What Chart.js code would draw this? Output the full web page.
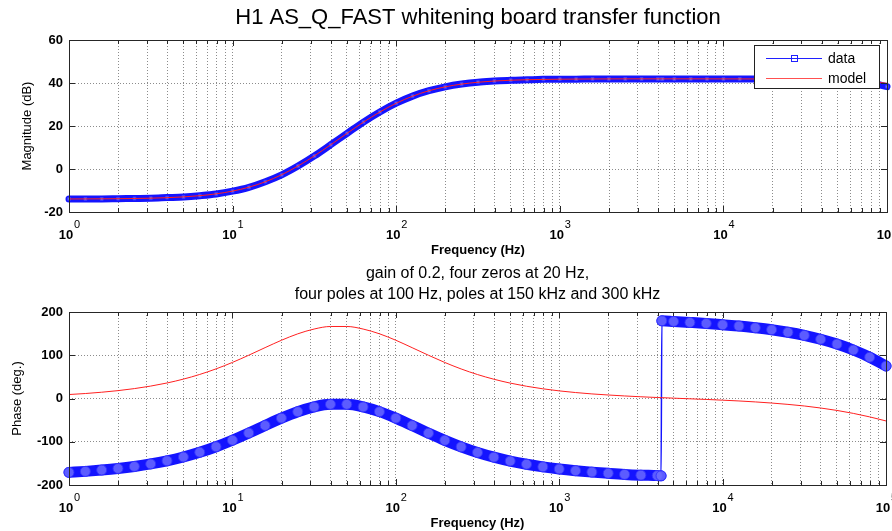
<!DOCTYPE html>
<html>
<head>
<meta charset="utf-8">
<title>H1 AS_Q_FAST whitening board transfer function</title>
<script src="https://cdn.jsdelivr.net/npm/chart.js@4.4.1/dist/chart.umd.min.js"></script>
<style>
  html, body { margin:0; padding:0; background:#fff; }
  #wrap { position:relative; width:892px; height:531px; overflow:hidden; }
  #wrap canvas { position:absolute; left:0; }
  #magChart { top:0; }
  #phaseChart { top:262px; }
</style>
</head>
<body>
<div id="wrap">
  <canvas id="magChart" width="892" height="262"></canvas>
  <canvas id="phaseChart" width="892" height="269"></canvas>
</div>
<script>
// ── Data ─────────────────────────────────────────────────────
const freqs = [
  1, 1.259, 1.585, 1.995, 2.512, 3.162, 3.981, 5.012, 6.31, 7.943,
  10, 12.59, 15.85, 19.95, 25.12, 31.62, 39.81, 50.12, 63.1, 79.43,
  100, 125.9, 158.5, 199.5, 251.2, 316.2, 398.1, 501.2, 631, 794.3,
  1000, 1259, 1585, 1995, 2512, 3162, 3981, 4200, 4250, 5012, 6310, 7943,
  10000, 12590, 15850, 19950, 25120, 31620, 39810, 50120, 63100, 79430, 100000
];

const magData = [
  -13.9, -13.9, -13.9, -13.8, -13.7, -13.6, -13.3, -13.0, -12.4, -11.6,
  -10.3, -8.5, -5.9, -2.7, 1.4, 6.1, 11.3, 16.6, 21.8, 26.5,
  30.6, 33.9, 36.4, 38.2, 39.5, 40.4, 40.9, 41.3, 41.5, 41.7,
  41.8, 41.8, 41.9, 41.9, 41.9, 41.9, 41.9, 41.9, 41.9, 41.9, 41.9, 41.9,
  41.9, 41.9, 41.9, 41.8, 41.8, 41.7, 41.5, 41.3, 40.8, 40.0, 38.3
];

const magModel = [
  -13.94, -13.91, -13.88, -13.82, -13.72, -13.57, -13.33, -12.97, -12.40, -11.55,
  -10.28, -8.45, -5.94, -2.66, 1.41, 6.12, 11.29, 16.61, 21.78, 26.50,
  30.58, 33.88, 36.39, 38.22, 39.49, 40.35, 40.92, 41.29, 41.52, 41.67,
  41.77, 41.83, 41.87, 41.90, 41.92, 41.93, 41.93, 41.93, 41.93, 41.93, 41.93, 41.92,
  41.91, 41.90, 41.88, 41.84, 41.79, 41.70, 41.57, 41.36, 41.04, 40.57, 39.88
];

const phaseData = [
  -170.8, -168.5, -165.5, -161.8, -157.1, -151.3, -144.1, -135.2, -124.4, -111.5,
  -96.6, -79.9, -62.4, -45.4, -30.5, -19.4, -13.5, -13.5, -19.4, -30.4,
  -45.4, -62.6, -80.1, -96.8, -111.8, -124.8, -135.6, -144.7, -152.0, -158.0,
  -162.9, -166.9, -170.2, -173.0, -175.5, -177.2, -178.3, -178.8, 179.6, 178.1, 175.9, 173.5,
  170.5, 167.5, 163.6, 159.0, 153.1, 145.9, 136.9, 125.8, 112.1, 95.4, 75.1
];

const phaseModel = [
  9.2, 11.5, 14.5, 18.2, 22.9, 28.7, 35.9, 44.8, 55.6, 68.5,
  83.4, 100.1, 117.6, 134.6, 149.5, 160.6, 166.5, 166.5, 160.6, 149.6,
  134.7, 117.5, 100.0, 83.3, 68.3, 55.4, 44.6, 35.6, 28.3, 22.4,
  17.6, 13.8, 10.6, 8.1, 5.9, 4.0, 2.3, 2.0, 1.9, 0.8, -0.7, -2.2,
  -3.9, -5.7, -7.9, -10.5, -13.6, -17.3, -22.0, -27.6, -34.4, -42.5, -51.9
];

const decades   = [1, 10, 100, 1000, 10000, 100000];
const decadeExp = ['0', '1', '2', '3', '4', '5'];
const minorSteps = [1, 2, 3, 4, 5, 6, 7, 8, 9];

const FONT = "'Liberation Sans', Arial, Helvetica, sans-serif";
const GRID = 'rgba(0,0,0,0.45)';

const pts = ys => freqs.map((f, i) => ({ x: f, y: ys[i] }));

const gridTicks = [];
decades.slice(0, -1).forEach(d => minorSteps.forEach(m => gridTicks.push(d * m)));
gridTicks.push(100000);

// ── Plugin: MATLAB style frame, labels, titles ───────────────
const frame = {
  id: 'frame',
  afterDraw(chart, args, o) {
    const { ctx, chartArea: a, scales: { x, y } } = chart;
    ctx.save();
    ctx.strokeStyle = '#262626';
    ctx.lineWidth = 1;
    ctx.beginPath();
    x.ticks.forEach(t => {
      const px = Math.round(x.getPixelForValue(t.value)) + 0.5;
      const len = decades.includes(t.value) ? 6 : 4;
      ctx.moveTo(px, a.bottom); ctx.lineTo(px, a.bottom - len);
      ctx.moveTo(px, a.top);    ctx.lineTo(px, a.top + len);
    });
    y.ticks.forEach(t => {
      const py = Math.round(y.getPixelForValue(t.value)) + 0.5;
      ctx.moveTo(a.left, py);  ctx.lineTo(a.left + 6, py);
      ctx.moveTo(a.right, py); ctx.lineTo(a.right - 6, py);
    });
    ctx.stroke();
    ctx.strokeRect(Math.round(a.left) + 0.5, Math.round(a.top) + 0.5,
                   Math.round(a.right - a.left), Math.round(a.bottom - a.top));

    // x tick labels 10^k
    ctx.fillStyle = '#000';
    ctx.textBaseline = 'alphabetic';
    decades.forEach((v, i) => {
      const px = x.getPixelForValue(v);
      ctx.font = 'bold 13px ' + FONT;
      ctx.textAlign = 'center';
      ctx.fillText('10', px - 3, a.bottom + 27);
      ctx.font = '11px ' + FONT;
      ctx.textAlign = 'left';
      ctx.fillText(decadeExp[i], px + 5, a.bottom + 16);
    });

    // axis titles
    const cx = (a.left + a.right) / 2;
    ctx.font = 'bold 13px ' + FONT;
    ctx.textAlign = 'center';
    ctx.textBaseline = 'middle';
    ctx.fillText(o.xTitle, cx, a.bottom + 38);

    ctx.save();
    ctx.translate(o.yTitleX, (a.top + a.bottom) / 2);
    ctx.rotate(-Math.PI / 2);
    ctx.font = '13px ' + FONT;
    ctx.fillText(o.yTitle, 0, 0);
    ctx.restore();

    // header text
    (o.header || []).forEach(h => {
      ctx.font = h.size + 'px ' + FONT;
      ctx.fillText(h.text, cx, h.y);
    });

    // legend box
    if (o.legend) {
      const L = o.legend;
      ctx.fillStyle = '#fff';
      ctx.fillRect(L.x, L.y, L.w, L.h);
      ctx.strokeStyle = '#222';
      ctx.strokeRect(L.x + 0.5, L.y + 0.5, L.w, L.h);
      chart.data.datasets.slice().sort((p, q) => q.order - p.order).forEach((ds, i) => {
        const ly = L.y + 13 + i * 20 + 0.5;
        ctx.strokeStyle = ds.legendColor;
        ctx.lineWidth = 1;
        ctx.beginPath();
        ctx.moveTo(L.x + 12, ly); ctx.lineTo(L.x + 68, ly);
        ctx.stroke();
        if (ds.label === 'data') {
          ctx.strokeRect(L.x + 37.5, ly - 3, 6, 6);
        }
        ctx.fillStyle = '#000';
        ctx.font = '14px ' + FONT;
        ctx.textAlign = 'left';
        ctx.fillText(ds.label, L.x + 74, ly + 1);
      });
    }
    ctx.restore();
  }
};

// ── Shared axis builders ─────────────────────────────────────
function xAxis(height) {
  return {
    type: 'logarithmic', min: 1, max: 100000,
    afterBuildTicks: s => { s.ticks = gridTicks.map(v => ({ value: v })); },
    afterFit: s => { s.height = height; },
    ticks: { display: false },
    grid: { color: GRID, drawTicks: false, lineWidth: 1 },
    border: { display: false, dash: [1, 2] }
  };
}

function yAxis(min, max, step) {
  return {
    min, max,
    afterFit: s => { s.width = 69; },
    ticks: { stepSize: step, padding: 6, color: '#000',
             font: { family: FONT, size: 13, weight: 'bold' } },
    grid: { color: GRID, drawTicks: false, lineWidth: 1 },
    border: { display: false, dash: [1, 2] }
  };
}

const baseOpts = {
  responsive: false,
  animation: false,
  events: [],
  plugins: { legend: { display: false }, tooltip: { enabled: false } }
};

// ── Magnitude ────────────────────────────────────────────────
new Chart(document.getElementById('magChart'), {
  type: 'line',
  data: {
    datasets: [
      { label: 'data', data: pts(magData), order: 1, legendColor: '#2020ff',
        borderColor: '#1414ff', borderWidth: 7,
        borderJoinStyle: 'round', borderCapStyle: 'round',
        pointStyle: 'rect', pointRadius: 2, pointBorderWidth: 1,
        pointBorderColor: 'rgba(60,60,255,0.9)', pointBackgroundColor: 'rgba(120,120,255,0.9)',
        cubicInterpolationMode: 'monotone', clip: 5 },
      { label: 'model', data: pts(magModel), order: 0, legendColor: '#ff5050',
        borderColor: '#ff2020', borderWidth: 1, pointRadius: 0,
        cubicInterpolationMode: 'monotone' }
    ]
  },
  options: {
    ...baseOpts,
    layout: { padding: { top: 40, right: 4, left: 0, bottom: 0 } },
    scales: { x: xAxis(50), y: yAxis(-20, 60, 20) },
    plugins: {
      ...baseOpts.plugins,
      frame: {
        xTitle: 'Frequency (Hz)', yTitle: 'Magnitude (dB)', yTitleX: 27,
        header: [{ text: 'H1 AS_Q_FAST whitening board transfer function', size: 22, y: 18 }],
        legend: { x: 754, y: 45, w: 125, h: 43 }
      }
    }
  },
  plugins: [frame]
});

// ── Phase ────────────────────────────────────────────────────
new Chart(document.getElementById('phaseChart'), {
  type: 'line',
  data: {
    datasets: [
      { label: 'data', data: pts(phaseData), order: 1,
        borderColor: '#1414ff', borderWidth: 11,
        borderJoinStyle: 'round', borderCapStyle: 'round',
        segment: { borderWidth: c => Math.abs(c.p1.parsed.y - c.p0.parsed.y) > 200 ? 1.5 : 11 },
        pointStyle: 'circle', pointRadius: 5, pointBorderWidth: 1,
        pointBorderColor: 'rgba(50,50,255,0.9)', pointBackgroundColor: 'rgba(110,110,255,0.8)',
        cubicInterpolationMode: 'monotone', clip: 7 },
      { label: 'model', data: pts(phaseModel), order: 0,
        borderColor: '#ff2020', borderWidth: 1, pointRadius: 0,
        cubicInterpolationMode: 'monotone' }
    ]
  },
  options: {
    ...baseOpts,
    layout: { padding: { top: 50, right: 4, left: 0, bottom: 0 } },
    scales: { x: xAxis(46), y: yAxis(-200, 200, 100) },
    plugins: {
      ...baseOpts.plugins,
      frame: {
        xTitle: 'Frequency (Hz)', yTitle: 'Phase (deg.)', yTitleX: 17,
        header: [
          { text: 'gain of 0.2, four zeros at 20 Hz,', size: 16, y: 12 },
          { text: 'four poles at 100 Hz, poles at 150 kHz and 300 kHz', size: 16, y: 33 }
        ]
      }
    }
  },
  plugins: [frame]
});
</script>
</body>
</html>
